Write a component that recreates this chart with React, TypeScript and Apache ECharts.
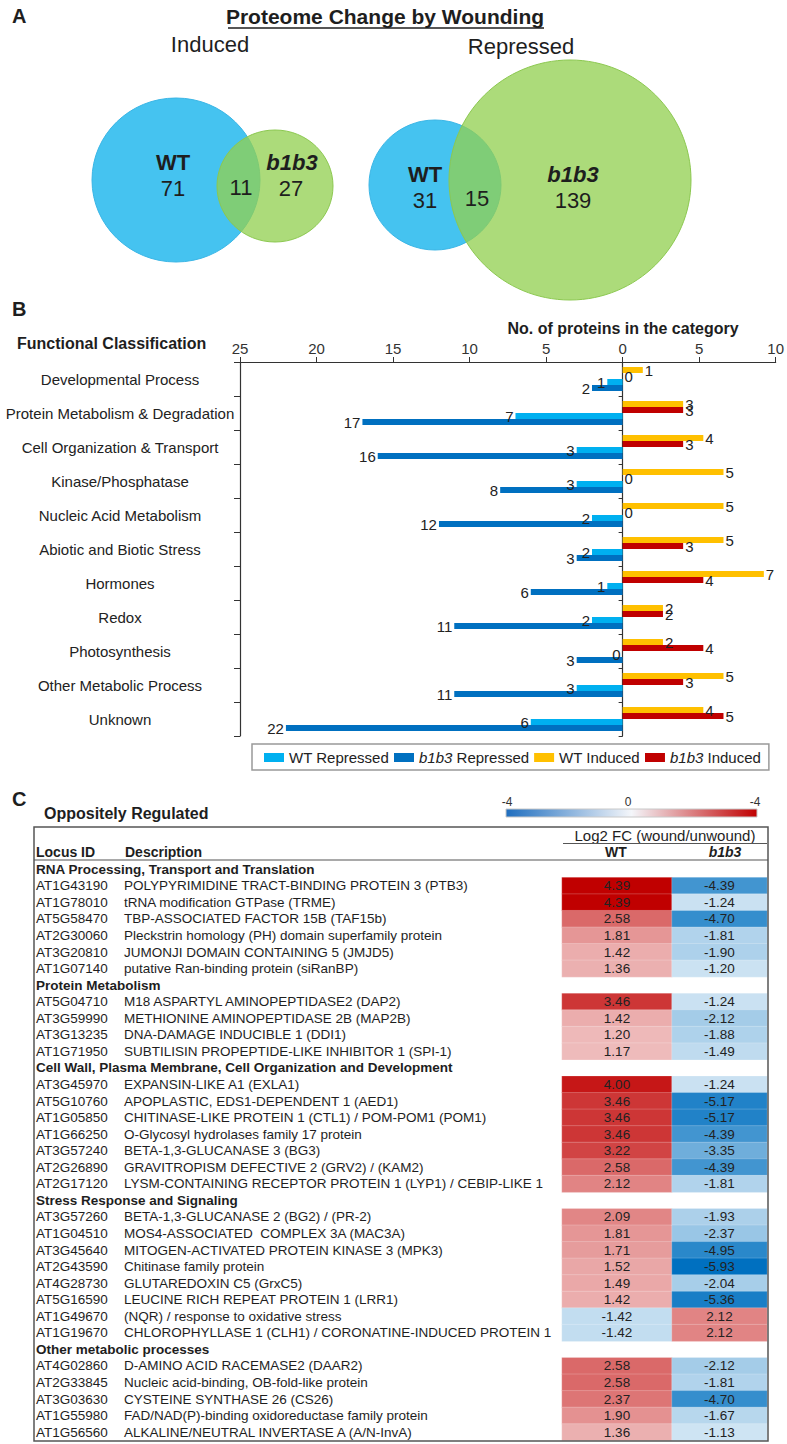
import React, { useEffect, useRef } from "react";
import * as echarts from "echarts";

const W = 787;
const H = 1444;
const ARIAL = '"Liberation Sans", Arial, Helvetica, sans-serif';
const NARROW = '"Liberation Sans Narrow", "Arial Narrow", "Liberation Sans", Arial, sans-serif';
const INK = "#1e1e1e";

// ---------- Panel A: Venn counts ----------
const vennSetNames = ["WT", "b1b3"];
const vennInduced = [71, 11, 27]; // WT only, shared, b1b3 only
const vennRepressed = [31, 15, 139];

// ---------- Panel B: functional classification ----------
const categories = [
  "Developmental Process",
  "Protein Metabolism & Degradation",
  "Cell Organization & Transport",
  "Kinase/Phosphatase",
  "Nucleic Acid Metabolism",
  "Abiotic and Biotic Stress",
  "Hormones",
  "Redox",
  "Photosynthesis",
  "Other Metabolic Process",
  "Unknown",
];
const wtRepressed = [1, 7, 3, 3, 2, 2, 1, 2, 0, 3, 6];
const b1b3Repressed = [2, 17, 16, 8, 12, 3, 6, 11, 3, 11, 22];
const wtInduced = [1, 3, 4, 5, 5, 5, 7, 2, 2, 5, 4];
const b1b3Induced = [0, 3, 3, 0, 0, 3, 4, 2, 4, 3, 5];
const seriesNames = ["WT Repressed", "b1b3 Repressed", "WT Induced", "b1b3 Induced"];

// ---------- Panel C: oppositely regulated ----------
const sectionNames = [
  "RNA Processing, Transport and Translation",
  "Protein Metabolism",
  "Cell Wall, Plasma Membrane, Cell Organization and Development",
  "Stress Response and Signaling",
  "Other metabolic processes",
];
const sectionSizes = [6, 4, 7, 8, 5];
const locusIds = [
  "AT1G43190", "AT1G78010", "AT5G58470", "AT2G30060", "AT3G20810", "AT1G07140",
  "AT5G04710", "AT3G59990", "AT3G13235", "AT1G71950",
  "AT3G45970", "AT5G10760", "AT1G05850", "AT1G66250", "AT3G57240", "AT2G26890", "AT2G17120",
  "AT3G57260", "AT1G04510", "AT3G45640", "AT2G43590", "AT4G28730", "AT5G16590", "AT1G49670", "AT1G19670",
  "AT4G02860", "AT2G33845", "AT3G03630", "AT1G55980", "AT1G56560",
];
const descriptions = [
  "POLYPYRIMIDINE TRACT-BINDING PROTEIN 3 (PTB3)",
  "tRNA modification GTPase (TRME)",
  "TBP-ASSOCIATED FACTOR 15B (TAF15b)",
  "Pleckstrin homology (PH) domain superfamily protein",
  "JUMONJI DOMAIN CONTAINING 5 (JMJD5)",
  "putative Ran-binding protein (siRanBP)",
  "M18 ASPARTYL AMINOPEPTIDASE2 (DAP2)",
  "METHIONINE AMINOPEPTIDASE 2B (MAP2B)",
  "DNA-DAMAGE INDUCIBLE 1 (DDI1)",
  "SUBTILISIN PROPEPTIDE-LIKE INHIBITOR 1 (SPI-1)",
  "EXPANSIN-LIKE A1 (EXLA1)",
  "APOPLASTIC, EDS1-DEPENDENT 1 (AED1)",
  "CHITINASE-LIKE PROTEIN 1 (CTL1) / POM-POM1 (POM1)",
  "O-Glycosyl hydrolases family 17 protein",
  "BETA-1,3-GLUCANASE 3 (BG3)",
  "GRAVITROPISM DEFECTIVE 2 (GRV2) / (KAM2)",
  "LYSM-CONTAINING RECEPTOR PROTEIN 1 (LYP1) / CEBIP-LIKE 1",
  "BETA-1,3-GLUCANASE 2 (BG2) / (PR-2)",
  "MOS4-ASSOCIATED  COMPLEX 3A (MAC3A)",
  "MITOGEN-ACTIVATED PROTEIN KINASE 3 (MPK3)",
  "Chitinase family protein",
  "GLUTAREDOXIN C5 (GrxC5)",
  "LEUCINE RICH REPEAT PROTEIN 1 (LRR1)",
  "(NQR) / response to oxidative stress",
  "CHLOROPHYLLASE 1 (CLH1) / CORONATINE-INDUCED PROTEIN 1",
  "D-AMINO ACID RACEMASE2 (DAAR2)",
  "Nucleic acid-binding, OB-fold-like protein",
  "CYSTEINE SYNTHASE 26 (CS26)",
  "FAD/NAD(P)-binding oxidoreductase family protein",
  "ALKALINE/NEUTRAL INVERTASE A (A/N-InvA)",
];
const wtFC = [
  4.39, 4.39, 2.58, 1.81, 1.42, 1.36,
  3.46, 1.42, 1.2, 1.17,
  4.0, 3.46, 3.46, 3.46, 3.22, 2.58, 2.12,
  2.09, 1.81, 1.71, 1.52, 1.49, 1.42, -1.42, -1.42,
  2.58, 2.58, 2.37, 1.9, 1.36,
];
const b1b3FC = [
  -4.39, -1.24, -4.7, -1.81, -1.9, -1.2,
  -1.24, -2.12, -1.88, -1.49,
  -1.24, -5.17, -5.17, -4.39, -3.35, -4.39, -1.81,
  -1.93, -2.37, -4.95, -5.93, -2.04, -5.36, 2.12, 2.12,
  -2.12, -1.81, -4.7, -1.67, -1.13,
];
const colorBarTicks = ["-4", "0", "-4"];

// ---------- derived ----------
const fcMax = Math.max(...wtFC, ...b1b3FC);
const fcMin = Math.min(...wtFC, ...b1b3FC);
const norm = (v: number) => (v >= 0 ? v / fcMax : -(v / fcMin));

const rowKeys: string[] = [];
const rowRich: string[] = [];
const wtHeat: any[] = [];
const bHeat: any[] = [];
{
  let k = 0;
  let r = 0;
  sectionNames.forEach((s, si) => {
    rowKeys.push("sec" + si);
    rowRich.push(`{s|${s}}`);
    r++;
    for (let j = 0; j < sectionSizes[si]; j++) {
      rowKeys.push(locusIds[k]);
      rowRich.push(`{id|${locusIds[k]}}{d|${descriptions[k]}}`);
      wtHeat.push([0, r, wtFC[k], norm(wtFC[k])]);
      bHeat.push([0, r, b1b3FC[k], norm(b1b3FC[k])]);
      r++;
      k++;
    }
  });
}

const txt = (text: string, x: number, y: number, font: string, align = "left", fill = INK) => ({
  type: "text",
  style: {
    text,
    x,
    y,
    font,
    fill,
    align,
    textAlign: align,
    verticalAlign: "middle",
    textVerticalAlign: "middle",
  },
  z: 50,
});

const ellipse = (cx: number, cy: number, rx: number, ry: number, fill: string, stroke: string, z: number) => ({
  type: "ellipse",
  shape: { cx, cy, rx, ry },
  style: { fill, stroke, lineWidth: 1 },
  z,
});

const BLUE_V = "#45C3F0";
const GREEN_V = "rgba(146,208,80,0.76)";

function buildOption(): any {
  const barLabel = (pos: string) => ({
    show: true,
    position: pos,
    distance: 2,
    fontSize: 15,
    fontFamily: ARIAL,
    color: "#222",
    formatter: (p: any) => String(Math.abs(p.value)),
  });

  const graphic: any[] = [
    // Panel A
    txt("A", 12, 16, `bold 20px ${ARIAL}`),
    txt("Proteome Change by Wounding", 385, 16, `bold 21px ${NARROW}`, "center"),
    { type: "line", shape: { x1: 228, y1: 28, x2: 544, y2: 28 }, style: { stroke: INK, lineWidth: 1.3 }, z: 50 },
    txt("Induced", 210, 44, `22px ${NARROW}`, "center"),
    txt("Repressed", 521, 46, `22px ${NARROW}`, "center"),
    ellipse(176, 180, 84, 82, BLUE_V, "#3BB6E6", 10),
    ellipse(275, 186, 58, 56, GREEN_V, "#8CC850", 11),
    ellipse(435, 185, 66, 65, BLUE_V, "#3BB6E6", 10),
    ellipse(570, 180, 121, 120, GREEN_V, "#8CC850", 11),
    txt(vennSetNames[0], 173, 162, `bold 22px ${NARROW}`, "center"),
    txt(String(vennInduced[0]), 173, 188, `22px ${NARROW}`, "center"),
    txt(String(vennInduced[1]), 241, 187, `22px ${NARROW}`, "center"),
    txt(vennSetNames[1], 292, 162, `italic bold 22px ${NARROW}`, "center"),
    txt(String(vennInduced[2]), 291, 188, `22px ${NARROW}`, "center"),
    txt(vennSetNames[0], 425, 174, `bold 22px ${NARROW}`, "center"),
    txt(String(vennRepressed[0]), 425, 200, `22px ${NARROW}`, "center"),
    txt(String(vennRepressed[1]), 477, 198, `22px ${NARROW}`, "center"),
    txt(vennSetNames[1], 573, 174, `italic bold 22px ${NARROW}`, "center"),
    txt(String(vennRepressed[2]), 573, 200, `22px ${NARROW}`, "center"),

    // Panel B
    txt("B", 12, 309, `bold 20px ${ARIAL}`),
    txt("Functional Classification", 17, 343, `bold 16px ${ARIAL}`),
    txt("No. of proteins in the category", 623, 328, `bold 16px ${ARIAL}`, "center"),

    // Panel C
    txt("C", 12, 799, `bold 20px ${ARIAL}`),
    txt("Oppositely Regulated", 44, 813, `bold 16px ${ARIAL}`),
    {
      type: "rect",
      shape: { x: 506, y: 809, width: 251, height: 8 },
      style: {
        fill: {
          type: "linear",
          x: 0,
          y: 0,
          x2: 1,
          y2: 0,
          colorStops: [
            { offset: 0, color: "#1F6EBF" },
            { offset: 0.5, color: "#F4F6FA" },
            { offset: 1, color: "#C00000" },
          ],
        },
        stroke: "#C8C8C8",
        lineWidth: 1,
      },
      z: 50,
    },
    txt(colorBarTicks[0], 507, 802, `12px ${ARIAL}`, "center", "#333"),
    txt(colorBarTicks[1], 628, 802, `12px ${ARIAL}`, "center", "#333"),
    txt(colorBarTicks[2], 755, 802, `12px ${ARIAL}`, "center", "#333"),
    {
      type: "rect",
      shape: { x: 34, y: 827, width: 734, height: 614 },
      style: { fill: "none", stroke: "#555", lineWidth: 1.5 },
      z: 60,
    },
    txt("Log2 FC (wound/unwound)", 665, 835, `15px ${NARROW}`, "center"),
    { type: "line", shape: { x1: 563, y1: 843.5, x2: 767, y2: 843.5 }, style: { stroke: "#555", lineWidth: 1.2 }, z: 60 },
    txt("Locus ID", 36, 852, `bold 14px ${NARROW}`),
    txt("Description", 125, 852, `bold 14px ${NARROW}`),
    txt("WT", 616, 852, `bold 14px ${NARROW}`, "center"),
    txt("b1b3", 725, 852, `italic bold 14px ${NARROW}`, "center"),
    { type: "line", shape: { x1: 34, y1: 860, x2: 768, y2: 860 }, style: { stroke: "#555", lineWidth: 1.2 }, z: 60 },
  ];

  const catTop = 362;
  const catH = 374;
  const heatTop = 861;
  const heatH = 579.5;

  return {
    animation: false,
    backgroundColor: "#ffffff",
    textStyle: { fontFamily: ARIAL },
    graphic,
    legend: {
      data: seriesNames,
      left: 252,
      top: 744,
      orient: "horizontal",
      padding: [6, 8, 5, 12],
      itemGap: 5,
      itemWidth: 20,
      itemHeight: 9,
      icon: "rect",
      borderColor: "#999",
      borderWidth: 1.5,
      selectedMode: false,
      formatter: (name: string) =>
        name.startsWith("b1b3") ? `{i|b1b3}{n|${name.slice(4)}}` : `{n|${name}}`,
      textStyle: {
        fontSize: 15,
        color: "#222",
        fontFamily: ARIAL,
        rich: {
          i: { fontSize: 15, fontStyle: "italic", color: "#222", fontFamily: ARIAL },
          n: { fontSize: 15, color: "#222", fontFamily: ARIAL },
        },
      },
    },
    visualMap: {
      type: "continuous",
      show: false,
      dimension: 3,
      min: -1,
      max: 1,
      seriesIndex: [4, 5],
      inRange: { color: ["#0070C0", "#FFFFFF", "#C00000"] },
    },
    grid: [
      { left: 240, width: 539, top: catTop, height: catH },
      { left: 562, width: 110, top: heatTop, height: heatH },
      { left: 672, width: 95, top: heatTop, height: heatH },
    ],
    xAxis: [
      {
        type: "value",
        gridIndex: 0,
        position: "top",
        min: -25,
        max: 10,
        interval: 5,
        axisLine: { show: true, onZero: false, lineStyle: { color: "#333", width: 1.2 } },
        axisTick: { show: true, length: 5, lineStyle: { color: "#333" } },
        axisLabel: {
          fontSize: 15,
          color: "#333",
          margin: 6,
          formatter: (v: number) => String(Math.abs(v)),
        },
        splitLine: { show: false },
      },
      {
        type: "value",
        gridIndex: 0,
        position: "top",
        min: -18.966,
        max: 7.586,
        show: false,
        splitLine: { show: false },
      },
      { type: "category", gridIndex: 1, data: ["WT"], show: false },
      { type: "category", gridIndex: 2, data: ["b1b3"], show: false },
    ],
    yAxis: [
      {
        type: "category",
        gridIndex: 0,
        data: categories,
        inverse: true,
        position: "left",
        axisLine: { show: true, onZero: false, lineStyle: { color: "#333", width: 1.2 } },
        axisTick: { show: true, length: 6, lineStyle: { color: "#333" } },
        axisLabel: { fontSize: 15, color: "#222", align: "center", margin: 120, interval: 0 },
      },
      {
        type: "category",
        gridIndex: 0,
        data: categories,
        inverse: true,
        position: "left",
        axisLine: { show: true, onZero: true, onZeroAxisIndex: 0, lineStyle: { color: "#333", width: 1.2 } },
        axisTick: { show: true, length: 4, lineStyle: { color: "#333" } },
        axisLabel: { show: false },
      },
      {
        type: "category",
        gridIndex: 1,
        data: rowKeys,
        inverse: true,
        axisLine: { show: false },
        axisTick: { show: false },
        axisLabel: {
          interval: 0,
          align: "left",
          margin: 526,
          formatter: (_v: string, idx: number) => rowRich[idx],
          rich: {
            id: { width: 88, fontSize: 13.5, color: "#1e1e1e", fontFamily: ARIAL },
            d: { fontSize: 13.5, color: "#1e1e1e", fontFamily: ARIAL },
            s: { fontSize: 13.5, fontWeight: "bold", color: "#1e1e1e", fontFamily: ARIAL },
          },
        },
      },
      {
        type: "category",
        gridIndex: 2,
        data: rowKeys,
        inverse: true,
        show: false,
      },
    ],
    series: [
      {
        name: "WT Induced",
        type: "bar",
        xAxisIndex: 1,
        yAxisIndex: 0,
        data: wtInduced,
        barWidth: 6,
        barGap: "0%",
        itemStyle: { color: "#FFC000" },
        label: barLabel("right"),
      },
      {
        name: "b1b3 Induced",
        type: "bar",
        xAxisIndex: 1,
        yAxisIndex: 0,
        data: b1b3Induced,
        barWidth: 6,
        barGap: "0%",
        itemStyle: { color: "#C00000" },
        label: barLabel("right"),
      },
      {
        name: "WT Repressed",
        type: "bar",
        xAxisIndex: 0,
        yAxisIndex: 0,
        data: wtRepressed.map((v) => -v),
        barWidth: 6,
        barGap: "0%",
        itemStyle: { color: "#00B0F0" },
        label: barLabel("left"),
      },
      {
        name: "b1b3 Repressed",
        type: "bar",
        xAxisIndex: 0,
        yAxisIndex: 0,
        data: b1b3Repressed.map((v) => -v),
        barWidth: 6,
        barGap: "0%",
        itemStyle: { color: "#0070C0" },
        label: barLabel("left"),
      },
      {
        name: "WT FC",
        type: "heatmap",
        xAxisIndex: 2,
        yAxisIndex: 2,
        data: wtHeat,
        itemStyle: { borderColor: "rgba(255,255,255,0.35)", borderWidth: 0.6 },
        label: {
          show: true,
          fontSize: 13.5,
          color: "#222",
          fontFamily: ARIAL,
          formatter: (p: any) => Number(p.value[2]).toFixed(2),
        },
      },
      {
        name: "b1b3 FC",
        type: "heatmap",
        xAxisIndex: 3,
        yAxisIndex: 3,
        data: bHeat,
        itemStyle: { borderColor: "rgba(255,255,255,0.35)", borderWidth: 0.6 },
        label: {
          show: true,
          fontSize: 13.5,
          color: "#222",
          fontFamily: ARIAL,
          formatter: (p: any) => Number(p.value[2]).toFixed(2),
        },
      },
    ],
  };
}

export default function App() {
  const ref = useRef<HTMLDivElement>(null);
  useEffect(() => {
    if (!ref.current) return;
    const chart = echarts.init(ref.current, null, { renderer: "svg", width: W, height: H });
    chart.setOption(buildOption());
    return () => chart.dispose();
  }, []);
  return (
    <div
      ref={ref}
      style={{ position: "absolute", left: 0, top: 0, width: W, height: H, background: "#fff" }}
    />
  );
}
